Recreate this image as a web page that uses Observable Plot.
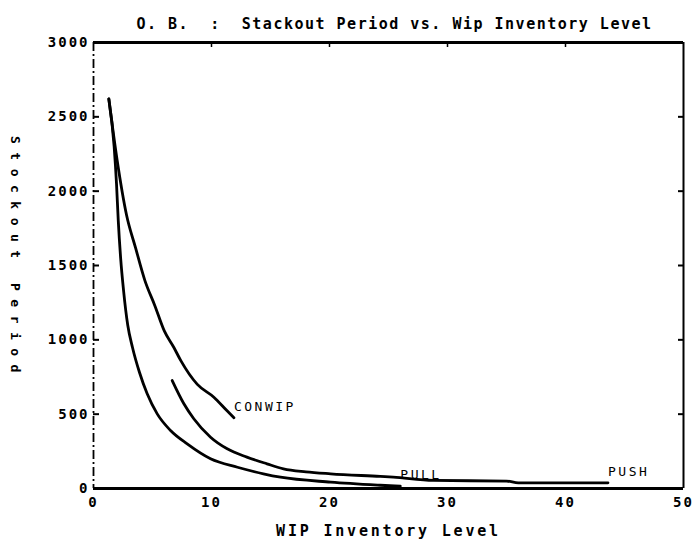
<!DOCTYPE html>
<html>
<head>
<meta charset="utf-8">
<script src="https://cdn.jsdelivr.net/npm/d3@7"></script>
<script src="https://cdn.jsdelivr.net/npm/@observablehq/plot@0.6"></script>
<style>
  html, body { margin: 0; padding: 0; background: #fff; }
  svg { display: block; }
</style>
</head>
<body>
<div id="chart"></div>
<script>
// ---- data ----
const titleText = "O. B.  :  Stackout Period vs. Wip Inventory Level";
const xLabel = "WIP Inventory Level";
const yLabel = "Stockout Period";
const xTicks = [0, 10, 20, 30, 40, 50];
const yTicks = [0, 500, 1000, 1500, 2000, 2500, 3000];
const xDomain = [0, 50];
const yDomain = [0, 3000];

const conwipX = [1.3, 2.0, 2.8, 3.56, 4.35, 5.2, 6.0, 6.8, 7.4, 8.8, 10.2, 11.3, 11.9];
const conwipY = [2620, 2210, 1840, 1620, 1400, 1230, 1060, 950, 860, 700, 614, 524, 476];

const pullX = [1.3, 1.75, 1.95, 2.1, 2.3, 2.55, 2.9, 3.3, 3.9, 4.55, 5.4, 6.53, 7.94, 9.92, 12.2, 14.4, 15.85, 20.1, 24.3, 26.0];
const pullY = [2620, 2300, 2050, 1800, 1550, 1330, 1100, 950, 780, 637, 502, 390, 300, 200, 143, 99, 76, 43, 22, 15];

const pushX = [6.67, 7.66, 8.5, 9.92, 11.33, 13.0, 14.7, 16.1, 18.0, 20.1, 24.3, 25.4, 28.8, 35.0, 36.0, 43.6];
const pushY = [726, 570, 469, 345, 267, 211, 166, 132, 112, 99, 81, 76, 54, 50, 38, 38];

const seriesNames = ["CONWIP", "PULL", "PUSH"];

// ---- build table ----
const rows = [];
[[conwipX, conwipY], [pullX, pullY], [pushX, pushY]].forEach(([xs, ys], i) => {
  xs.forEach((x, j) => rows.push({series: seriesNames[i], x, y: ys[j]}));
});

const font = "'DejaVu Sans Mono', monospace";

const chart = Plot.plot({
  width: 697,
  height: 553,
  marginLeft: 93,
  marginRight: 14,
  marginTop: 42,
  marginBottom: 65,
  style: {background: "#fff", color: "#000", fontFamily: font, fontWeight: "bold", fontSize: "14px"},
  x: {domain: xDomain, axis: null},
  y: {domain: yDomain, axis: null},
  marks: [
    // frame
    Plot.ruleY([yDomain[1]], {stroke: "#000", strokeWidth: 3}),
    Plot.ruleY([yDomain[0]], {stroke: "#000", strokeWidth: 3}),
    Plot.ruleX([xDomain[0]], {stroke: "#000", strokeWidth: 1.8, strokeDasharray: "9,3,2,3"}),
    Plot.ruleX([xDomain[1]], {stroke: "#000", strokeWidth: 2}),
    // left axis: inward ticks + labels
    Plot.axisY({anchor: "left", label: null, ticks: yTicks, tickSize: -6, tickPadding: 10, strokeWidth: 2,
      fontSize: 14, fontWeight: "bold", tickFormat: d => String(d), className: "ytl"}),
    // right axis: inward ticks only
    Plot.axisY({anchor: "right", label: null, ticks: yTicks.slice(1, -1), tickSize: -6, strokeWidth: 2, tickFormat: () => ""}),
    // bottom axis labels
    Plot.axisX({anchor: "bottom", label: null, ticks: xTicks, tickSize: 0, tickPadding: 9, fontSize: 14,
      fontWeight: "bold", tickFormat: d => String(d), className: "xtl"}),
    // top inward ticks
    Plot.axisX({anchor: "top", label: null, ticks: xTicks.slice(1, -1), tickSize: -4, strokeWidth: 1.5, tickFormat: () => ""}),
    // curves
    Plot.line(rows, {x: "x", y: "y", z: "series", stroke: "#000", strokeWidth: 2.8, curve: "monotone-x"}),
    // series labels at line ends
    Plot.text(rows, Plot.selectLast({x: "x", y: "y", z: "series", text: "series",
      textAnchor: "start", dx: 0, dy: -11, fontSize: 13, fontWeight: "bold",
      fontFamily: font, className: "slab"})),
    // title
    Plot.text([titleText], {frameAnchor: "top", dx: 6, dy: -24, fontSize: 15, fontWeight: "bold",
      fontFamily: font, text: d => d, className: "ttl"}),
    // x label
    Plot.text([xLabel], {frameAnchor: "bottom", dy: 47, fontSize: 15, fontWeight: "bold",
      fontFamily: font, text: d => d, className: "xlab"}),
    // y label
    Plot.text([yLabel], {frameAnchor: "left", textAnchor: "middle", dx: -78, dy: -7, rotate: 90, fontSize: 13,
      fontWeight: "bold", fontFamily: font, text: d => d, className: "ylab"})
  ]
});

// letter spacing to mimic the wide printer font
const s = d3.select(chart);
s.selectAll(".ttl text").style("letter-spacing", "1.5px");
s.selectAll(".xlab text").style("letter-spacing", "2.8px");
s.selectAll(".ylab text").style("letter-spacing", "8.5px");
s.selectAll(".ytl text, .xtl text").style("letter-spacing", "2px");
s.selectAll(".slab text").style("letter-spacing", "2.5px").style("font-weight", "normal");
document.getElementById("chart").appendChild(chart);
</script>
</body>
</html>
